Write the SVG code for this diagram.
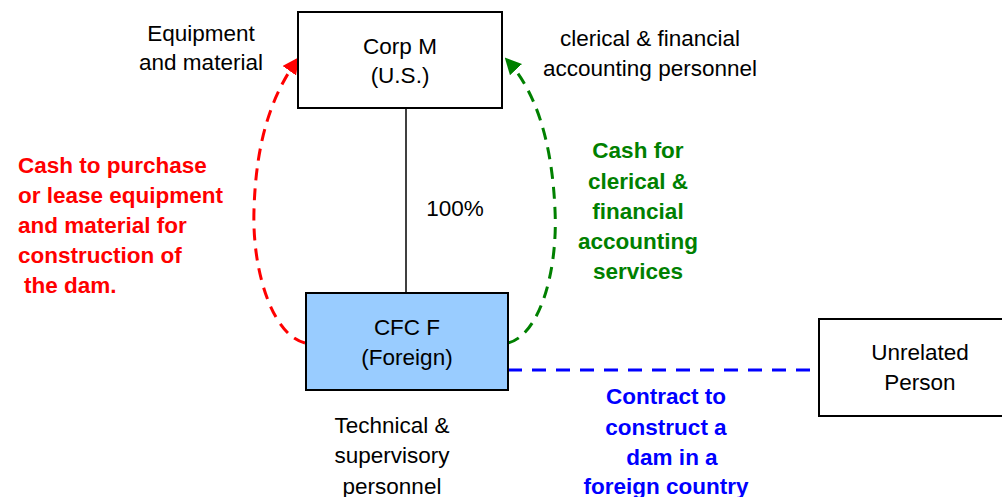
<svg xmlns="http://www.w3.org/2000/svg" width="1002" height="497" viewBox="0 0 1002 497">
<style>
text{font-family:"Liberation Sans",Arial,sans-serif;font-size:22.5px;text-anchor:middle;fill:#000}
.b{font-weight:bold}
.s{text-anchor:start}
.r{fill:#ff0000}.g{fill:#008000}.bl{fill:#0000ff}
.box{stroke:#000;stroke-width:2}
</style>
<defs>
<marker id="ar" viewBox="0 0 10 10" refX="8" refY="5" markerWidth="5.5" markerHeight="5.5" orient="auto"><path d="M0,0L10,5L0,10z" fill="#ff0000"/></marker>
<marker id="ag" viewBox="0 0 10 10" refX="8" refY="5" markerWidth="5.5" markerHeight="5.5" orient="auto"><path d="M0,0L10,5L0,10z" fill="#008000"/></marker>
</defs>
<g id="connectors" fill="none">
<line x1="406" y1="108" x2="406" y2="293" stroke="#000" stroke-width="1.5"/>
<path d="M305,343 C272,335 252,270 254,210 C256,140 272,95 297,60" stroke="#ff0000" stroke-width="3" stroke-dasharray="12,8" marker-end="url(#ar)"/>
<path d="M508,343 C540,335 558,270 555,210 C552,140 535,90 507,60" stroke="#008000" stroke-width="3" stroke-dasharray="12,8" marker-end="url(#ag)"/>
<line x1="508" y1="370" x2="819" y2="370" stroke="#0000ff" stroke-width="3" stroke-dasharray="14,10"/>
</g>
<g id="corpM">
<rect class="box" x="298" y="12" width="204" height="96" fill="#fff"/>
<text x="400" y="54">Corp M</text>
<text x="400" y="83">(U.S.)</text>
</g>
<g id="cfcF">
<rect class="box" x="306" y="293" width="202" height="97" fill="#99ccff"/>
<text x="407" y="335">CFC F</text>
<text x="407" y="365">(Foreign)</text>
</g>
<g id="unrelated">
<rect class="box" x="819" y="319" width="190" height="97" fill="#fff"/>
<text x="920" y="360">Unrelated</text>
<text x="920" y="390">Person</text>
</g>
<g id="labels">
<text x="201" y="41">Equipment</text>
<text x="201" y="70">and material</text>
<text x="650" y="46">clerical &amp; financial</text>
<text x="650" y="76">accounting personnel</text>
<text x="455" y="216">100%</text>
<text x="392" y="433">Technical &amp;</text>
<text x="392" y="463">supervisory</text>
<text x="392" y="494">personnel</text>
<text class="b r s" x="18" y="173">Cash to purchase</text>
<text class="b r s" x="18" y="203">or lease equipment</text>
<text class="b r s" x="18" y="233">and material for</text>
<text class="b r s" x="18" y="263">construction of</text>
<text class="b r s" x="24" y="293">the dam.</text>
<text class="b g" x="638" y="158">Cash for</text>
<text class="b g" x="638" y="189">clerical &amp;</text>
<text class="b g" x="638" y="219">financial</text>
<text class="b g" x="638" y="249">accounting</text>
<text class="b g" x="638" y="279">services</text>
<text class="b bl" x="666" y="404">Contract to</text>
<text class="b bl" x="666" y="435">construct a</text>
<text class="b bl" x="672" y="465">dam in a</text>
<text class="b bl" x="666" y="494">foreign country</text>
</g>
</svg>
